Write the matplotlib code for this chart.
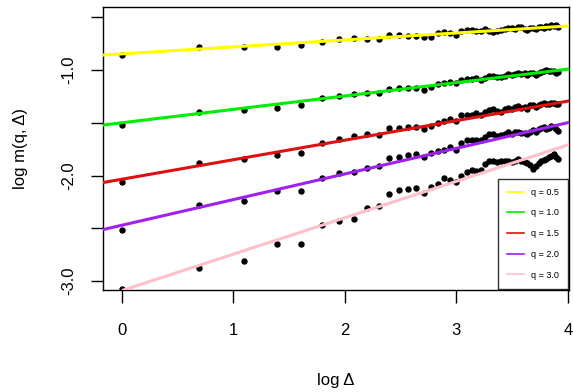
import numpy as np
import matplotlib
matplotlib.use("Agg")
import matplotlib.pyplot as plt

plt.rcParams['font.family'] = ['Liberation Sans', 'DejaVu Sans']

# --- data ---
delta = np.arange(1, 51)
log_delta = np.log(delta)

m_q05 = [-0.858, -0.785, -0.779, -0.779, -0.763, -0.731, -0.709, -0.700, -0.703, -0.706,
         -0.668, -0.668, -0.678, -0.678, -0.684, -0.684, -0.652, -0.643, -0.646, -0.665,
         -0.630, -0.621, -0.621, -0.627, -0.630, -0.614, -0.627, -0.636, -0.627, -0.621,
         -0.614, -0.602, -0.605, -0.608, -0.595, -0.589, -0.608, -0.621, -0.605, -0.605,
         -0.608, -0.595, -0.589, -0.605, -0.583, -0.589, -0.576, -0.583, -0.573, -0.589]

m_q10 = [-1.521, -1.395, -1.379, -1.357, -1.332, -1.268, -1.243, -1.230, -1.215, -1.221,
         -1.177, -1.174, -1.174, -1.168, -1.190, -1.164, -1.133, -1.120, -1.111, -1.126,
         -1.095, -1.088, -1.088, -1.079, -1.095, -1.073, -1.057, -1.057, -1.069, -1.063,
         -1.057, -1.038, -1.050, -1.038, -1.031, -1.038, -1.025, -1.047, -1.031, -1.025,
         -1.047, -1.025, -1.016, -1.007, -1.000, -1.012, -1.007, -1.010, -1.025, -1.016]

m_q15 = [-2.063, -1.886, -1.848, -1.801, -1.785, -1.690, -1.652, -1.627, -1.611, -1.620,
         -1.554, -1.551, -1.538, -1.538, -1.557, -1.533, -1.500, -1.485, -1.469, -1.485,
         -1.431, -1.422, -1.422, -1.412, -1.431, -1.400, -1.381, -1.374, -1.390, -1.400,
         -1.374, -1.358, -1.368, -1.349, -1.343, -1.358, -1.349, -1.368, -1.336, -1.327,
         -1.349, -1.327, -1.318, -1.311, -1.324, -1.318, -1.311, -1.311, -1.318, -1.324]

m_q20 = [-2.512, -2.284, -2.237, -2.149, -2.149, -2.028, -1.974, -1.969, -1.924, -1.912,
         -1.836, -1.823, -1.810, -1.800, -1.823, -1.785, -1.763, -1.754, -1.732, -1.754,
         -1.690, -1.668, -1.659, -1.668, -1.665, -1.637, -1.608, -1.605, -1.627, -1.618,
         -1.608, -1.592, -1.605, -1.590, -1.583, -1.600, -1.595, -1.608, -1.583, -1.573,
         -1.590, -1.557, -1.548, -1.542, -1.557, -1.548, -1.533, -1.538, -1.557, -1.580]

m_q30 = [-3.080, -2.875, -2.810, -2.645, -2.650, -2.465, -2.430, -2.410, -2.310, -2.290,
         -2.175, -2.140, -2.130, -2.120, -2.170, -2.110, -2.080, -2.020, -2.040, -2.060,
         -2.000, -1.965, -1.945, -1.955, -1.945, -1.890, -1.860, -1.860, -1.870, -1.865,
         -1.867, -1.858, -1.874, -1.858, -1.848, -1.867, -1.870, -1.880, -1.905, -1.934,
         -1.912, -1.880, -1.864, -1.853, -1.842, -1.829, -1.817, -1.800, -1.825, -1.842]

q_labels = ["q = 0.5", "q = 1.0", "q = 1.5", "q = 2.0", "q = 3.0"]
intercepts = [-0.847, -1.500, -2.035, -2.471, -3.090]
slopes = [0.066, 0.127, 0.185, 0.243, 0.345]
colors = ["#FFFF00", "#00EE00", "#DD1111", "#A020F0", "#FFC0CB"]

series = [m_q05, m_q10, m_q15, m_q20, m_q30]

fig = plt.figure(figsize=(5.73, 3.92), dpi=100)
ax = fig.add_axes([0.1798, 0.2602, 0.8132, 0.7219])

for ys in series:
    ax.plot(log_delta, ys, 'o', color='black', markersize=3.6, zorder=2)

for b, m, c, lab in zip(intercepts, slopes, colors, q_labels):
    ax.axline((0, b), slope=m, color=c, lw=2.2, label=lab, zorder=3)

ax.set_xlim(-0.17, 4.01)
ax.set_ylim(-3.085, -0.403)

ax.set_xticks([0, 1, 2, 3, 4])
ax.set_xticklabels(["0", "1", "2", "3", "4"])
yt = [-3.0, -2.5, -2.0, -1.5, -1.0, -0.5]
ax.set_yticks(yt)
ax.set_yticklabels(["-3.0", "", "-2.0", "", "-1.0", ""], rotation=90, va='center')

ax.tick_params(axis='both', direction='out', length=9, width=1, labelsize=12, colors='black')
ax.tick_params(axis='x', pad=15)
ax.tick_params(axis='y', pad=10)
for s in ax.spines.values():
    s.set_linewidth(1)
    s.set_color('black')

ax.set_xlabel("log Δ", fontsize=12, labelpad=25)
ax.set_ylabel("log m(q, Δ)", fontsize=12, labelpad=24)

leg = ax.legend(loc='lower right', bbox_to_anchor=(1.0, 0.0), borderaxespad=0.15,
                fontsize=6.5, frameon=True, fancybox=False, handlelength=1.9,
                handletextpad=0.7, labelspacing=1.3, borderpad=1.0)
leg.get_frame().set_edgecolor('black')
leg.get_frame().set_linewidth(1)
for h in leg.get_lines():
    h.set_linewidth(1.2)

fig.savefig("out.png", dpi=100)
